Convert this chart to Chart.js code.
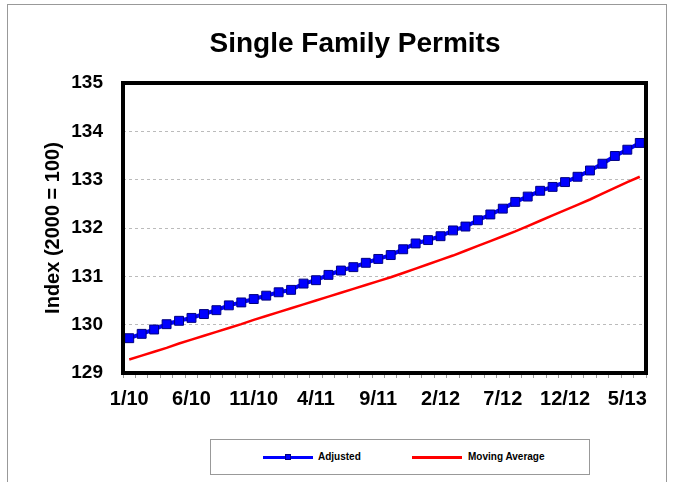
<!DOCTYPE html>
<html>
<head>
<meta charset="utf-8">
<script src="https://cdn.jsdelivr.net/npm/chart.js@4.4.0/dist/chart.umd.min.js"></script>
<style>
  body { margin: 0; background: #fff; font-family: Arial, "Liberation Sans", sans-serif; }
  #wrap { position: relative; width: 677px; height: 482px; overflow: hidden; }
  #frame { position: absolute; left: 7px; top: 4px; width: 660px; height: 520px; border: 1px solid #999; box-sizing: border-box; }
  #c { position: absolute; left: 0; top: 0; }
  #legend { position: absolute; left: 210px; top: 439px; width: 380px; height: 36px; border: 1px solid #999; box-sizing: border-box; background: #fff; font-size: 10px; font-weight: bold; color: #000; }
  .item { position: absolute; top: 0; height: 34px; line-height: 34px; white-space: nowrap; }
  .swatch { position: absolute; top: 16px; height: 3px; }
  .mark { position: absolute; top: 14px; width: 6px; height: 6px; background: #0000ff; border: 1px solid #000080; box-sizing: border-box; }
</style>
</head>
<body>
<div id="wrap">
  <div id="frame"></div>
  <canvas id="c" width="677" height="482"></canvas>
  <div id="legend">
    <div class="swatch" style="left:52px;width:50px;background:#0000ff;"></div>
    <div class="mark" style="left:74px;"></div>
    <div class="item" style="left:107px;">Adjusted</div>
    <div class="swatch" style="left:201px;width:50px;background:#ff0000;"></div>
    <div class="item" style="left:257px;">Moving Average</div>
  </div>
</div>
<script>
// monthly categories, 1/10 .. 6/13
var months = [
  '1/10', '2/10', '3/10', '4/10', '5/10', '6/10', '7/10', '8/10', '9/10', '10/10', '11/10', '12/10',
  '1/11', '2/11', '3/11', '4/11', '5/11', '6/11', '7/11', '8/11', '9/11', '10/11', '11/11', '12/11',
  '1/12', '2/12', '3/12', '4/12', '5/12', '6/12', '7/12', '8/12', '9/12', '10/12', '11/12', '12/12',
  '1/13', '2/13', '3/13', '4/13', '5/13', '6/13'
];

var adjusted = [
  129.72, 129.81, 129.90, 130.01, 130.08, 130.14, 130.22, 130.30, 130.40, 130.46, 130.53, 130.60,
  130.67, 130.72, 130.85, 130.92, 131.03, 131.12, 131.19, 131.28, 131.36, 131.44, 131.56, 131.68,
  131.75, 131.83, 131.95, 132.03, 132.16, 132.28, 132.40, 132.54, 132.65, 132.77, 132.85, 132.95,
  133.06, 133.19, 133.33, 133.49, 133.62, 133.76
];

var movingAverage = [
  129.28, 129.36, 129.44, 129.52, 129.61, 129.69, 129.77, 129.85, 129.93, 130.01, 130.10, 130.18,
  130.26, 130.34, 130.42, 130.50, 130.58, 130.66, 130.74, 130.82, 130.90, 130.98, 131.07, 131.16,
  131.25, 131.34, 131.43, 131.53, 131.63, 131.73, 131.83, 131.93, 132.04, 132.15, 132.26, 132.37,
  132.48, 132.59, 132.71, 132.83, 132.95, 133.06
];

var yMin = 129;
var yMax = 135;
var labelEvery = 5;
var titleText = 'Single Family Permits';
var fontFamily = 'Arial, "Liberation Sans", sans-serif';

// thick black box round the plot area, title drawn a bit left of the plot centre
var plotBorder = {
  id: 'plotBorder',
  afterDatasetsDraw: function (chart) {
    var a = chart.chartArea;
    var ctx = chart.ctx;
    ctx.save();
    ctx.strokeStyle = '#000';
    ctx.lineWidth = 4;
    ctx.strokeRect(a.left, a.top, a.right - a.left, a.bottom - a.top);

    ctx.fillStyle = '#000';
    ctx.font = 'bold 28px ' + fontFamily;
    ctx.textAlign = 'center';
    ctx.textBaseline = 'middle';
    ctx.fillText(titleText, 355, 44);
    ctx.restore();
  }
};

var chart = new Chart(document.getElementById('c').getContext('2d'), {
  type: 'line',
  data: {
    labels: months,
    datasets: [
      {
        label: 'Adjusted',
        data: adjusted,
        borderColor: '#0000ff',
        borderWidth: 4,
        pointStyle: 'rect',
        pointRadius: 6.3,
        pointBackgroundColor: '#0000ff',
        pointBorderColor: '#000080',
        pointBorderWidth: 1,
        tension: 0
      },
      {
        label: 'Moving Average',
        data: movingAverage,
        borderColor: '#ff0000',
        borderWidth: 2.5,
        pointRadius: 0,
        tension: 0
      }
    ]
  },
  options: {
    responsive: false,
    animation: false,
    devicePixelRatio: 1,
    layout: { padding: { left: 37, right: 31, top: 83, bottom: 0 } },
    plugins: {
      legend: { display: false },
      tooltip: { enabled: false },
      title: { display: false }
    },
    scales: {
      x: {
        offset: true,
        border: { display: false },
        grid: { offset: true, drawOnChartArea: false, drawTicks: true, tickLength: 5, color: '#999', lineWidth: 1 },
        ticks: {
          autoSkip: false,
          maxRotation: 0,
          padding: 9,
          color: '#000',
          font: { family: fontFamily, size: 20, weight: 'bold' },
          callback: function (value, index) {
            return index % labelEvery === 0 ? months[index] : '';
          }
        },
        afterFit: function (scale) { scale.height = 109; }
      },
      y: {
        min: yMin,
        max: yMax,
        border: { display: false, dash: [3, 3] },
        grid: { drawTicks: false, color: '#bbb', lineWidth: 1 },
        ticks: {
          stepSize: 1,
          padding: 20,
          color: '#000',
          font: { family: fontFamily, size: 19, weight: 'bold' }
        },
        title: {
          display: true,
          text: 'Index (2000 = 100)',
          color: '#000',
          font: { family: fontFamily, size: 20, weight: 'bold' }
        },
        afterFit: function (scale) { scale.width = 86; }
      }
    }
  },
  plugins: [plotBorder]
});
</script>
</body>
</html>
